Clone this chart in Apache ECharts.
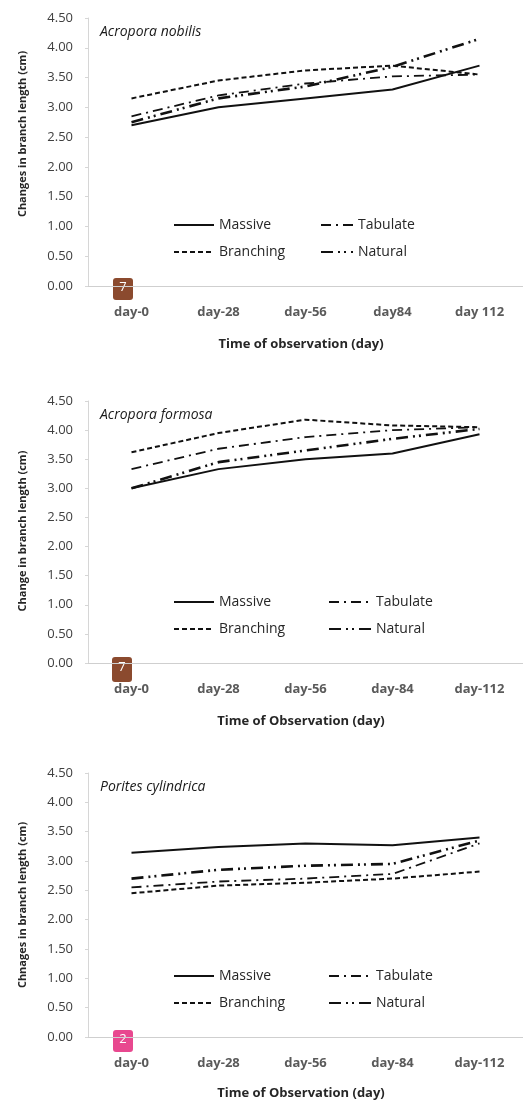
<!DOCTYPE html>
<html>
<head>
<meta charset="utf-8">
<script src="https://cdn.jsdelivr.net/npm/echarts@6/dist/echarts.min.js"></script>
<style>
  html, body { margin: 0; padding: 0; background: #fff; }
  #chart { width: 523px; height: 1102px; }
</style>
</head>
<body>
<div id="chart"></div>
<script>
// Time points per panel
const CATS_NOBILIS = ['day-0', 'day-28', 'day-56', 'day84', 'day 112'];
const CATS_FORMOSA = ['day-0', 'day-28', 'day-56', 'day-84', 'day-112'];
const CATS_PORITES = ['day-0', 'day-28', 'day-56', 'day-84', 'day-112'];

// Acropora nobilis (cm)
const NOBILIS_MASSIVE   = [2.70, 3.00, 3.15, 3.30, 3.70];
const NOBILIS_BRANCHING = [3.15, 3.45, 3.62, 3.70, 3.55];
const NOBILIS_TABULATE  = [2.85, 3.20, 3.40, 3.52, 3.55];
const NOBILIS_NATURAL   = [2.75, 3.15, 3.35, 3.68, 4.15];

// Acropora formosa (cm)
const FORMOSA_MASSIVE   = [3.00, 3.33, 3.50, 3.60, 3.93];
const FORMOSA_BRANCHING = [3.62, 3.95, 4.18, 4.08, 4.05];
const FORMOSA_TABULATE  = [3.33, 3.68, 3.88, 4.00, 4.05];
const FORMOSA_NATURAL   = [3.00, 3.45, 3.65, 3.85, 4.02];

// Porites cylindrica (cm)
const PORITES_MASSIVE   = [3.14, 3.24, 3.30, 3.27, 3.40];
const PORITES_BRANCHING = [2.45, 2.58, 2.63, 2.70, 2.82];
const PORITES_TABULATE  = [2.55, 2.65, 2.70, 2.78, 3.30];
const PORITES_NATURAL   = [2.70, 2.85, 2.92, 2.95, 3.35];

const Y_MIN = 0, Y_MAX = 4.5, Y_STEP = 0.5;
const SPECIES = ['Acropora nobilis', 'Acropora formosa', 'Porites cylindrica'];
const Y_TITLES = ['Changes in branch length (cm)', 'Change in branch length (cm)', 'Chnages in branch length (cm)'];
const X_TITLES = ['Time of observation (day)', 'Time of Observation (day)', 'Time of Observation (day)'];

const FONT = '"Open Sans", "DejaVu Sans", sans-serif';

const STYLES = {
  Massive:   { type: 'solid', width: 2 },
  Branching: { type: [5, 3], width: 2 },
  Tabulate:  { type: [10, 5, 2, 5], width: 1.8 },
  Natural:   { type: [12, 5, 2, 4, 2, 5], width: 2.6 }
};

const panels = [
  { cats: CATS_NOBILIS, top: 18, height: 268,
    series: { Massive: NOBILIS_MASSIVE, Branching: NOBILIS_BRANCHING, Tabulate: NOBILIS_TABULATE, Natural: NOBILIS_NATURAL },
    legendTop: 218, rightLegendLeft: 320, rightIconW: 32, yTitleY: 134, xTitleY: 344,
    badge: { x: 113, y: 278, w: 20, h: 22, fill: '#8b4a2e', text: '7' } },
  { cats: CATS_FORMOSA, top: 401, height: 262,
    series: { Massive: FORMOSA_MASSIVE, Branching: FORMOSA_BRANCHING, Tabulate: FORMOSA_TABULATE, Natural: FORMOSA_NATURAL },
    legendTop: 595, rightLegendLeft: 328, rightIconW: 42, yTitleY: 531, xTitleY: 721,
    badge: { x: 112, y: 657, w: 20, h: 25, fill: '#8b4a2e', text: '7' } },
  { cats: CATS_PORITES, top: 773, height: 264,
    series: { Massive: PORITES_MASSIVE, Branching: PORITES_BRANCHING, Tabulate: PORITES_TABULATE, Natural: PORITES_NATURAL },
    legendTop: 969, rightLegendLeft: 328, rightIconW: 42, yTitleY: 905, xTitleY: 1093,
    badge: { x: 113, y: 1030, w: 20, h: 22, fill: '#e8488f', text: '2' } }
];

const grid = [], xAxis = [], yAxis = [], series = [], legend = [], graphic = [];

panels.forEach((p, i) => {
  grid.push({ left: 88, right: -10, top: p.top, height: p.height });

  xAxis.push({
    type: 'category', gridIndex: i, data: p.cats, boundaryGap: true,
    axisLine: { lineStyle: { color: '#cfcfcf', width: 1 } },
    axisTick: { show: false },
    axisLabel: { margin: 20, fontFamily: FONT, fontSize: 13, fontWeight: 'bold', color: '#5a5a5a' }
  });

  yAxis.push({
    type: 'value', gridIndex: i, min: Y_MIN, max: Y_MAX, interval: Y_STEP,
    axisLine: { show: true, lineStyle: { color: '#d6d6d6', width: 1 } },
    axisTick: { show: true, length: 3, lineStyle: { color: '#d6d6d6' } },
    splitLine: { show: false },
    axisLabel: { margin: 15, fontFamily: FONT, fontSize: 13, color: '#404040',
      formatter: v => v.toFixed(2) }
  });

  Object.keys(p.series).forEach(name => {
    series.push({
      type: 'line', name, xAxisIndex: i, yAxisIndex: i,
      data: p.series[name], symbol: 'none', smooth: false,
      lineStyle: Object.assign({ color: '#111' }, STYLES[name]),
      itemStyle: { color: '#111' }
    });
  });

  // legend keys show the line pattern only
  const legendText = { fontFamily: FONT, fontSize: 14, color: '#262626' };
  const legendBase = {
    orient: 'vertical', top: p.legendTop, padding: 0,
    itemHeight: 14, itemGap: 13, textStyle: legendText, selectedMode: false,
    itemStyle: { opacity: 0 }
  };
  legend.push(Object.assign({}, legendBase, {
    data: ['Massive', 'Branching'], left: 173, itemWidth: 40
  }));
  legend.push(Object.assign({}, legendBase, {
    data: ['Tabulate', 'Natural'], left: p.rightLegendLeft, itemWidth: p.rightIconW
  }));

  // species name inside the plot
  graphic.push({
    type: 'text', left: 100, top: p.top + 7, z: 10,
    style: { text: SPECIES[i], font: 'italic 14px ' + FONT, fill: '#1a1a1a' }
  });

  // rotated y-axis title
  graphic.push({
    type: 'text', x: 23, y: p.yTitleY, rotation: Math.PI / 2, z: 10,
    style: { text: Y_TITLES[i], font: 'bold 11px ' + FONT, fill: '#262626',
      align: 'center', verticalAlign: 'middle', textAlign: 'center', textVerticalAlign: 'middle' }
  });

  // x-axis title
  graphic.push({
    type: 'text', x: 301, y: p.xTitleY, z: 10,
    style: { text: X_TITLES[i], font: 'bold 13px ' + FONT, fill: '#262626',
      align: 'center', verticalAlign: 'middle', textAlign: 'center', textVerticalAlign: 'middle' }
  });

  // numbered marker tag near the origin
  const b = p.badge;
  graphic.push({
    type: 'group', x: b.x, y: b.y, z: 20,
    children: [
      { type: 'rect', shape: { x: 0, y: 0, width: b.w, height: b.h, r: 3 }, style: { fill: b.fill } },
      { type: 'text', x: b.w / 2, y: b.h / 2 - 2,
        style: { text: b.text, font: '13px ' + FONT, fill: '#ffffff',
          align: 'center', verticalAlign: 'middle', textAlign: 'center', textVerticalAlign: 'middle' } }
    ]
  });
});

const chart = echarts.init(document.getElementById('chart'), null, { renderer: 'canvas' });
chart.setOption({
  backgroundColor: '#ffffff',
  animation: false,
  grid, xAxis, yAxis, series, legend, graphic
});
</script>
</body>
</html>
